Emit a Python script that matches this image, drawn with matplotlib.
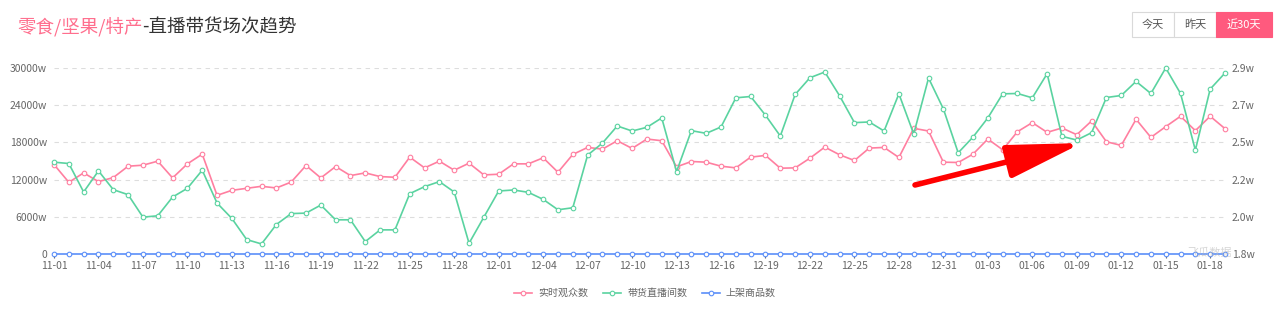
import numpy as np
import pandas as pd
import matplotlib
matplotlib.use("Agg")
import matplotlib.pyplot as plt
from matplotlib.patches import Rectangle

plt.rcParams['font.family'] = ['Noto Sans CJK SC', 'DejaVu Sans']

# 80 days, 11-01 .. 01-19
dates = list(pd.date_range('2020-11-01', periods=80).strftime('%m-%d'))

# 实时观众数 (left axis, unit w)
viewers = [14432, 11568, 13081, 11676, 12324, 14162, 14324, 14973, 12270, 14541,
           16108, 9459, 10270, 10595, 10919, 10649, 11600, 14270, 12270, 14108,
           12649, 13081, 12486, 12378, 15622, 13892, 14973, 13514, 14649, 12757,
           12865, 14541, 14541, 15514, 13189, 16054, 17189, 16919, 18270, 17027,
           18541, 18270, 14054, 14919, 14811, 14162, 13892, 15622, 15900, 13838,
           13892, 15459, 17243, 16000, 15081, 17081, 17189, 15568, 20270, 19838,
           14811, 14757, 16108, 18541, 16811, 19730, 21189, 19622, 20324, 19243,
           21459, 18108, 17514, 21730, 18811, 20541, 22216, 19892, 22216, 20216]

# 带货直播间数 (right axis)
rooms = [23431, 23351, 21667, 22915, 21805, 21508, 20180, 20259, 21369, 21885,
         22955, 21013, 20101, 18852, 18595, 19744, 20390, 20418, 20894, 20022,
         20022, 18733, 19427, 19427, 21568, 21984, 22281, 21667, 18634, 20180,
         21726, 21786, 21647, 21231, 20616, 20735, 23847, 24560, 25571, 25274,
         25492, 26047, 22876, 25294, 25135, 25512, 27236, 27315, 26205, 24976,
         27434, 28425, 28762, 27355, 25769, 25808, 25274, 27473, 25095, 28405,
         26582, 23985, 24917, 26047, 27473, 27492, 27236, 28663, 24957, 24739,
         25175, 27255, 27374, 28207, 27492, 29000, 27492, 24144, 27751, 28703]

# 上架商品数
goods = [0] * 80

left_ticks = [0, 6000, 12000, 18000, 24000, 30000]
right_ticks = list(np.linspace(18000, 29000, 6))

PINK = '#ff7fa0'
GREEN = '#5ad3a0'
BLUE = '#5b8ff9'
LABEL = '#666666'

W, H = 1280, 313
fig = plt.figure(figsize=(W / 100, H / 100), dpi=100)


def fx(x):
    return x / W


def fy(y):
    return 1 - y / H


ax = fig.add_axes([fx(54), fy(254), fx(1225) - fx(54), fy(68) - fy(254)])
ax2 = ax.twinx()

x = np.arange(len(dates))
mk = dict(marker='o', markersize=3.3, markerfacecolor='white', markeredgewidth=0.8,
          linewidth=1.2, clip_on=False)
l1, = ax.plot(x, viewers, color=PINK, label='实时观众数', zorder=3, **mk)
l3, = ax.plot(x, goods, color=BLUE, label='上架商品数', zorder=3, **mk)
l2, = ax2.plot(x, rooms, color=GREEN, label='带货直播间数', zorder=3, **mk)

ax.set_xlim(0, len(dates) - 1)
ax.set_ylim(0, 30000)
ax2.set_ylim(18000, 29000)

ax.set_yticks(left_ticks)
ax.set_yticklabels(['0' if v == 0 else f'{v}w' for v in left_ticks])
ax2.set_yticks(right_ticks)
ax2.set_yticklabels([f'{v / 10000:.1f}w' for v in right_ticks])

ax.set_xticks(x[::3])
ax.set_xticklabels(dates[::3])

for a in (ax, ax2):
    for s in a.spines.values():
        s.set_visible(False)
ax.grid(axis='y', linestyle=(0, (4, 4)), color='#dddddd', linewidth=0.8)
ax.set_axisbelow(True)

ax.tick_params(axis='y', length=0, pad=5, labelsize=7.5, labelcolor=LABEL)
ax2.tick_params(axis='y', length=0, pad=5, labelsize=7.5, labelcolor=LABEL)
ax.tick_params(axis='x', length=3, width=0.8, color='#666666', pad=2,
               labelsize=7.5, labelcolor=LABEL)

# title
t1 = fig.text(fx(17), fy(36), '零食/坚果/特产', color='#ff6f8e', fontsize=13.3,
              va='bottom', ha='left')
fig.texts.append(matplotlib.text.Annotation(
    '-直播带货场次趋势', xy=(1, 0), xycoords=t1, va='bottom', ha='left',
    color='#333333', fontsize=13.3))
fig.texts[-1].set_figure(fig)

# date range buttons
btns = [('今天', 1132, 1174), ('昨天', 1174, 1216), ('近30天', 1216, 1272)]
for lab, x0, x1 in btns:
    active = lab == '近30天'
    fig.patches.append(Rectangle((fx(x0), fy(37)), fx(x1) - fx(x0), fy(12) - fy(37),
                                 transform=fig.transFigure, figure=fig,
                                 facecolor='#ff5a7e' if active else 'white',
                                 edgecolor='#ff5a7e' if active else '#d9d9d9',
                                 linewidth=0.8))
    fig.text(fx((x0 + x1) / 2), fy(24.5), lab, ha='center', va='center',
             fontsize=8, color='white' if active else '#555555')

# legend
fig.legend(handles=[l1, l2, l3], loc='center', bbox_to_anchor=(fx(645), fy(293)),
           ncol=3, frameon=False, fontsize=7.2, labelcolor=LABEL,
           handlelength=1.8, handletextpad=0.6, columnspacing=1.5, numpoints=1)

# faint watermark
fig.text(fx(1210), fy(253), '飞瓜数据', ha='center', va='center', fontsize=8,
         color='#bbbbbb', alpha=0.6)

# red arrow drawn on the screenshot
ax.annotate('', xy=(1082, H - 143), xycoords='figure pixels',
            xytext=(915, H - 185), textcoords='figure pixels',
            arrowprops=dict(arrowstyle='-|>,head_length=3.8,head_width=0.85',
                            color='#ff0000', lw=4.0, mutation_scale=12,
                            shrinkA=0, shrinkB=0))

fig.savefig('out.png', dpi=100, facecolor='white')
